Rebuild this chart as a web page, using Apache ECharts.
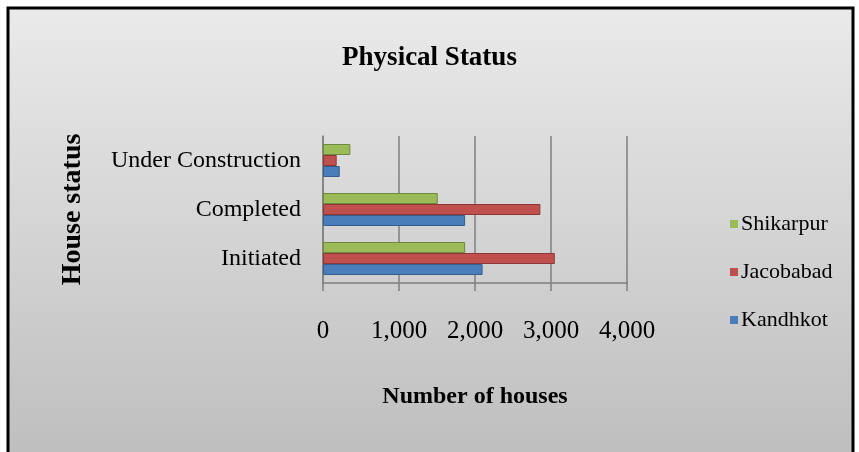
<!DOCTYPE html>
<html>
<head>
    <meta charset="utf-8">
    <script src="https://cdn.jsdelivr.net/npm/echarts@6/dist/echarts.min.js"></script>
    <style>
        body { margin: 0; background: #fff; }
        #main { width: 859px; height: 452px; }
    </style>
</head>
<body>
    <div id="main"></div>
<script type="text/javascript">
// data
var categories = ['Initiated', 'Completed', 'Under Construction'];
var kandhkot = [2100, 1870, 220];
var jacobabad = [3050, 2860, 180];
var shikarpur = [1870, 1510, 360];
var xTicks = [0, 1000, 2000, 3000, 4000];

var serif = '"Liberation Serif", "DejaVu Serif", serif';

var myChart = echarts.init(document.getElementById('main'));

function barSeries(name, data, color, border) {
    return {
        name: name,
        type: 'bar',
        data: data,
        barWidth: 11,
        barGap: '0%',
        itemStyle: { color: color, borderColor: border, borderWidth: 1 }
    };
}

option = {
    animation: false,
    graphic: [{
        type: 'rect',
        z: -10,
        shape: { x: 8, y: 8, width: 845, height: 450 },
        style: {
            fill: new echarts.graphic.LinearGradient(0, 0, 0, 1, [
                { offset: 0, color: '#eaeaea' },
                { offset: 1, color: '#bebebe' }
            ]),
            stroke: '#000',
            lineWidth: 3
        }
    }],
    title: {
        text: 'Physical Status',
        left: 'center',
        top: 40,
        textStyle: { fontFamily: serif, fontWeight: 'bold', fontSize: 27, color: '#000' }
    },
    legend: {
        orient: 'vertical',
        left: 725,
        top: 208,
        itemGap: 26,
        itemWidth: 8,
        itemHeight: 8,
        icon: 'rect',
        itemStyle: { borderWidth: 0 },
        data: ['Shikarpur', 'Jacobabad', 'Kandhkot'],
        textStyle: { fontFamily: serif, fontSize: 22, color: '#000', padding: [0, 0, 0, -2] }
    },
    grid: { left: 323, right: 232, top: 136, bottom: 169 },
    xAxis: {
        type: 'value',
        min: 0,
        max: 4000,
        interval: 1000,
        name: 'Number of houses',
        nameLocation: 'middle',
        nameGap: 102,
        nameTextStyle: { fontFamily: serif, fontWeight: 'bold', fontSize: 24, color: '#000' },
        axisLine: { show: true, lineStyle: { color: '#7f7f7f', width: 1.5 } },
        axisTick: { show: true, length: 8, lineStyle: { color: '#7f7f7f', width: 1.5 } },
        axisLabel: {
            margin: 36,
            fontFamily: serif,
            fontSize: 25,
            color: '#000',
            customValues: xTicks,
            formatter: function (v) { return v.toLocaleString('en-US'); }
        },
        splitLine: { show: true, lineStyle: { color: '#7f7f7f', width: 1.5 } }
    },
    yAxis: {
        type: 'category',
        data: categories,
        name: 'House status',
        nameLocation: 'middle',
        nameGap: 236,
        nameRotate: 90,
        nameTextStyle: { fontFamily: serif, fontWeight: 'bold', fontSize: 28, color: '#000' },
        axisLine: { show: true, lineStyle: { color: '#7f7f7f', width: 1.5 } },
        axisTick: { show: false },
        axisLabel: { margin: 22, fontFamily: serif, fontSize: 24, color: '#000' }
    },
    // first series is drawn on top within each group, so Shikarpur goes first
    series: [
        barSeries('Shikarpur', shikarpur, '#9bbb59', '#71893f'),
        barSeries('Jacobabad', jacobabad, '#c0504d', '#8c3836'),
        barSeries('Kandhkot', kandhkot, '#4a7ebb', '#385d8a')
    ]
};

myChart.setOption(option);
</script>
</body>
</html>
